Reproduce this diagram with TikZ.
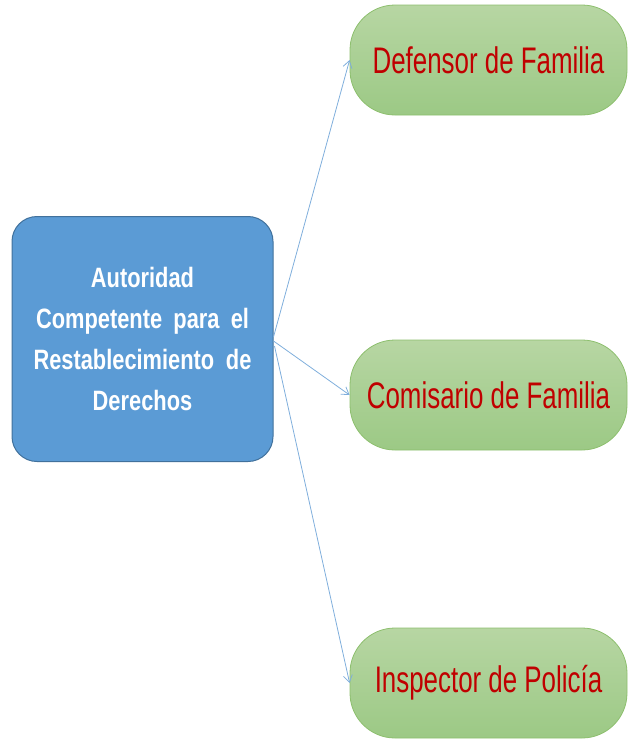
\documentclass[tikz,border=0pt]{standalone}
\usepackage{fontspec}
\setmainfont{Liberation Sans}
\newfontfamily\bluefont[FakeStretch=0.78]{Liberation Sans}
\newfontfamily\greenfont[FakeStretch=0.7]{Liberation Sans}
\usetikzlibrary{arrows.meta}
\definecolor{bluefill}{HTML}{5B9BD5}
\definecolor{blueedge}{HTML}{41719C}
\definecolor{greentop}{HTML}{B7D6A3}
\definecolor{greenbot}{HTML}{9CC985}
\definecolor{greenedge}{HTML}{8DBF6E}
\definecolor{redtext}{HTML}{C00000}
\definecolor{arrowblue}{HTML}{7FAEDC}
\tikzset{
  bluebox/.style={draw=blueedge, line width=1pt, fill=bluefill, rounded corners=25pt,
    minimum width=261pt, minimum height=245pt, align=center, text=white,
    font=\bluefont\bfseries\fontsize{28}{41}\selectfont, inner sep=0pt},
  greenbox/.style={draw=greenedge, line width=0.8pt, top color=greentop, bottom color=greenbot,
    rounded corners=45pt, minimum width=277pt, minimum height=110pt, text=redtext,
    font=\greenfont\fontsize{37}{44}\selectfont, inner sep=0pt},
  conn/.style={draw=arrowblue, line width=0.8pt, -{Straight Barb[length=7pt,width=9pt,line width=0.8pt]}}
}
\begin{document}
\begin{tikzpicture}[x=1pt,y=-1pt]
\useasboundingbox (0,0) rectangle (629,739);
\node[bluebox] (auth) at (142.5,339) {Autoridad\\\makebox[213pt][s]{Competente para el}\\\makebox[218pt][s]{Restablecimiento de}\\Derechos};
\node[greenbox] (def) at (488.5,60) {Defensor de Familia};
\node[greenbox] (com) at (488.5,395) {Comisario de Familia};
\node[greenbox] (insp) at (488.5,683) {Inspector de Policía};
\draw[conn] ([yshift=2pt]auth.east) -- (def.west);
\draw[conn] ([yshift=-2pt]auth.east) -- (com.west);
\draw[conn] ([xshift=1pt,yshift=-7pt]auth.east) -- (insp.west);
\end{tikzpicture}
\end{document}
